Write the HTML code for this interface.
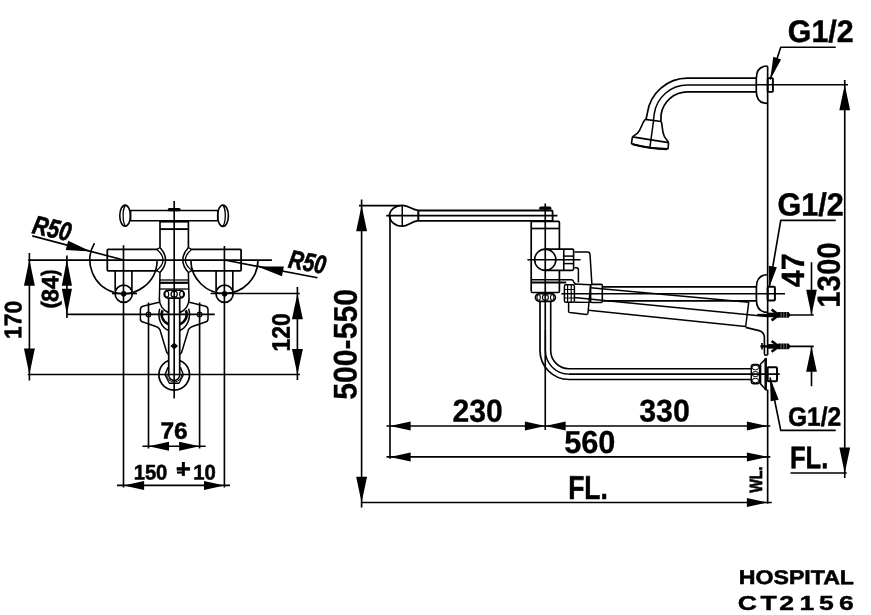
<!DOCTYPE html>
<html lang="en">
<head>
<meta charset="utf-8">
<title>HOSPITAL CT2156</title>
<style>
html,body{margin:0;padding:0;background:#fff;}
body{width:871px;height:615px;overflow:hidden;}
svg{display:block;will-change:transform;}
svg text{font-family:"Liberation Sans",sans-serif;font-weight:bold;fill:#000;}
</style>
</head>
<body>
<svg width="871" height="615" viewBox="0 0 871 615" fill="none" stroke="#000" stroke-linecap="butt" stroke-linejoin="round">
<g id="front">
<line x1="28.20" y1="260.05" x2="271.90" y2="260.05" stroke-width="1.65" />
<line x1="67.00" y1="314.40" x2="214.75" y2="314.40" stroke-width="1.65" />
<line x1="27.80" y1="374.50" x2="299.90" y2="374.50" stroke-width="1.65" />
<line x1="210.60" y1="293.50" x2="299.75" y2="293.50" stroke-width="1.65" />
<line x1="112.00" y1="293.50" x2="137.00" y2="293.50" stroke-width="1.65" />
<line x1="29.40" y1="253.00" x2="29.40" y2="380.50" stroke-width="1.65" />
<line x1="66.90" y1="255.60" x2="66.90" y2="318.00" stroke-width="1.65" />
<line x1="297.40" y1="287.00" x2="297.40" y2="380.00" stroke-width="1.65" />
<line x1="123.50" y1="245.25" x2="123.50" y2="487.50" stroke-width="1.65" />
<line x1="224.40" y1="246.00" x2="224.40" y2="487.50" stroke-width="1.65" />
<line x1="148.50" y1="302.50" x2="148.50" y2="448.50" stroke-width="1.65" />
<line x1="199.60" y1="302.50" x2="199.60" y2="448.50" stroke-width="1.65" />
<line x1="174.20" y1="201.00" x2="174.20" y2="398.50" stroke-width="1.65" />
<line x1="142.50" y1="446.25" x2="205.60" y2="446.25" stroke-width="1.65" />
<line x1="117.00" y1="485.40" x2="230.00" y2="485.40" stroke-width="1.65" />
<polygon points="29.40,259.60 34.85,285.80 23.95,285.80" fill="#000" stroke="none"/>
<polygon points="29.40,374.50 23.95,348.50 34.85,348.50" fill="#000" stroke="none"/>
<polygon points="66.90,259.60 71.95,285.80 61.85,285.80" fill="#000" stroke="none"/>
<polygon points="66.90,314.40 61.85,288.80 71.95,288.80" fill="#000" stroke="none"/>
<polygon points="297.40,293.50 302.85,319.30 291.95,319.30" fill="#000" stroke="none"/>
<polygon points="297.40,374.50 291.95,348.90 302.85,348.90" fill="#000" stroke="none"/>
<polygon points="148.50,446.25 169.00,441.75 169.00,450.75" fill="#000" stroke="none"/>
<polygon points="199.60,446.25 179.10,450.75 179.10,441.75" fill="#000" stroke="none"/>
<polygon points="123.50,485.40 144.10,480.90 144.10,489.90" fill="#000" stroke="none"/>
<polygon points="224.40,485.40 204.00,489.90 204.00,480.90" fill="#000" stroke="none"/>
<line x1="32.25" y1="235.90" x2="123.50" y2="260.05" stroke-width="1.65" />
<polygon points="90.98,251.60 65.77,250.01 68.18,240.72" fill="#000" stroke="none"/>
<line x1="224.40" y1="260.05" x2="317.50" y2="277.75" stroke-width="1.65" />
<polygon points="257.38,266.48 283.86,266.55 281.94,276.36" fill="#000" stroke="none"/>
<path d="M157.09 260.64 A33.6 33.6 0 1 1 94.47 243.14" stroke-width="1.65" />
<path d="M258.00 260.05 A33.6 33.6 0 0 1 190.81 260.64" stroke-width="1.65" />
<rect x="130.60" y="210.50" width="87.20" height="10.25" rx="0" stroke-width="1.6" />
<ellipse cx="125.10" cy="215.70" rx="5.30" ry="10.60" stroke-width="1.6" />
<path d="M126.2 205.2 A3.1 10.5 0 0 0 126.2 226.2" stroke-width="1.3" />
<ellipse cx="223.00" cy="215.70" rx="5.40" ry="10.70" stroke-width="1.6" />
<path d="M222.2 205.2 A3.1 10.5 0 0 1 222.2 226.2" stroke-width="1.3" />
<line x1="169.30" y1="209.70" x2="179.10" y2="209.70" stroke-width="3.2" stroke-linecap="round"/>
<line x1="160.00" y1="221.40" x2="188.40" y2="221.40" stroke-width="2.4" />
<line x1="160.00" y1="229.10" x2="188.40" y2="229.10" stroke-width="1.9" />
<line x1="160.00" y1="221.00" x2="160.00" y2="247.50" stroke-width="1.65" />
<line x1="188.40" y1="221.00" x2="188.40" y2="247.50" stroke-width="1.65" />
<path d="M156.9 249.4 L108.2 249.4 Q107.3 249.4 107.3 250.3 L107.3 269.9 Q107.3 270.8 108.2 270.8 L156.6 270.8" stroke-width="1.8" />
<path d="M191.5 249.4 L240.2 249.4 Q241.1 249.4 241.1 250.3 L241.1 269.9 Q241.1 270.8 240.2 270.8 L191.8 270.8" stroke-width="1.8" />
<path d="M160 247.5 Q171.2 260 160 272.5 L159.4 299" stroke-width="1.5" />
<path d="M160 247.5 L156.9 249.4 Q169.3 260 156.6 270.6 L160 272.5" stroke-width="1.3" />
<path d="M188.4 247.5 Q177.2 260 188.4 272.5 L189 299" stroke-width="1.5" />
<path d="M188.4 247.5 L191.5 249.4 Q179.1 260 191.8 270.6 L188.4 272.5" stroke-width="1.3" />
<line x1="115.20" y1="270.50" x2="115.20" y2="291.00" stroke-width="1.65" />
<line x1="131.90" y1="270.50" x2="131.90" y2="291.00" stroke-width="1.65" />
<circle cx="123.70" cy="293.70" r="8.60" stroke-width="1.7" />
<circle cx="123.7" cy="293.7" r="2.8" fill="#000" stroke="none"/>
<line x1="216.10" y1="270.50" x2="216.10" y2="291.00" stroke-width="1.65" />
<line x1="232.80" y1="270.50" x2="232.80" y2="291.00" stroke-width="1.65" />
<circle cx="224.60" cy="293.70" r="8.60" stroke-width="1.7" />
<circle cx="224.6" cy="293.7" r="2.8" fill="#000" stroke="none"/>
<line x1="160.00" y1="280.00" x2="188.40" y2="280.00" stroke-width="1.3" />
<line x1="160.00" y1="282.80" x2="188.40" y2="282.80" stroke-width="2.2" />
<line x1="160.00" y1="289.00" x2="188.40" y2="289.00" stroke-width="1.3" />
<rect x="164.10" y="290.30" width="20.20" height="7.80" rx="3.9" stroke-width="1.6" />
<ellipse cx="166.80" cy="294.20" rx="1.90" ry="3.00" stroke-width="1.2" />
<ellipse cx="174.20" cy="294.20" rx="3.10" ry="3.00" stroke-width="1.2" />
<ellipse cx="181.60" cy="294.20" rx="1.90" ry="3.00" stroke-width="1.2" />
<path d="M189.10 298.80 A14.9 14.9 0 0 1 179.78 312.62" stroke-width="1.7" />
<path d="M168.62 312.62 A14.9 14.9 0 0 1 159.30 298.80" stroke-width="1.7" />
<line x1="168.70" y1="298.10" x2="168.70" y2="375.00" stroke-width="1.7" />
<line x1="179.70" y1="298.10" x2="179.70" y2="375.00" stroke-width="1.7" />
<path d="M168.7 375 A5.5 5.5 0 0 0 179.7 375" stroke-width="1.5" />
<path d="M159.20 302.30 L143.70 306.00 Q140.40 306.60 140.40 309.50 L140.40 319.00 Q140.40 321.90 143.70 322.30 L155.20 326.20 Q159.90 327.70 160.40 331.20 L166.80 352.50 L168.70 354.60" stroke-width="1.5" />
<path d="M189.20 302.30 L204.70 306.00 Q208.00 306.60 208.00 309.50 L208.00 319.00 Q208.00 321.90 204.70 322.30 L193.20 326.20 Q188.50 327.70 188.00 331.20 L181.60 352.50 L179.70 354.60" stroke-width="1.5" />
<circle cx="148.50" cy="314.40" r="2.30" stroke-width="1.2" />
<circle cx="199.60" cy="314.40" r="2.30" stroke-width="1.2" />
<path d="M159.76 308.8 A15.3 17.2 0 0 0 168.70 330.55" stroke-width="1.5" />
<path d="M188.64 308.8 A15.3 17.2 0 0 1 179.70 330.55" stroke-width="1.5" />
<path d="M162.60 310.2 A12.6 11.0 0 0 0 168.70 324.40" stroke-width="2.5" />
<path d="M185.80 310.2 A12.6 11.0 0 0 1 179.70 324.40" stroke-width="2.5" />
<polygon points="174.2,342.4 178.0,346 174.2,349.6 170.39999999999998,346" fill="#000" stroke="none"/>
<path d="M179.7 360.47 A15.3 15.3 0 1 1 168.7 360.47" stroke-width="1.7" />
<path d="M168.00 367.30 L165.00 374.75 L169.40 383.20 L179.00 383.20 L183.40 374.75 L180.40 367.30" stroke-width="1.4" />
<path d="M166.79999999999998 374.7 A7.4 7.4 0 0 0 181.6 374.7" stroke-width="1.0" />
</g>
<g id="side">
<line x1="361.60" y1="199.40" x2="361.60" y2="507.50" stroke-width="1.65" />
<polygon points="361.60,205.60 367.05,231.30 356.15,231.30" fill="#000" stroke="none"/>
<polygon points="361.60,502.50 356.15,476.80 367.05,476.80" fill="#000" stroke="none"/>
<line x1="359.00" y1="205.60" x2="399.40" y2="205.60" stroke-width="1.65" />
<line x1="361.50" y1="502.50" x2="771.75" y2="502.50" stroke-width="1.65" />
<line x1="390.00" y1="215.60" x2="390.00" y2="458.75" stroke-width="1.65" />
<line x1="386.25" y1="215.60" x2="557.50" y2="215.60" stroke-width="1.65" />
<line x1="386.50" y1="425.95" x2="770.30" y2="425.95" stroke-width="1.65" />
<line x1="386.50" y1="456.90" x2="770.30" y2="456.90" stroke-width="1.65" />
<polygon points="390.00,425.95 410.60,421.45 410.60,430.45" fill="#000" stroke="none"/>
<polygon points="545.25,425.95 524.85,430.45 524.85,421.45" fill="#000" stroke="none"/>
<polygon points="545.25,425.95 565.65,421.45 565.65,430.45" fill="#000" stroke="none"/>
<polygon points="767.65,425.95 746.85,430.45 746.85,421.45" fill="#000" stroke="none"/>
<polygon points="390.00,456.90 410.60,452.40 410.60,461.40" fill="#000" stroke="none"/>
<polygon points="767.65,456.90 746.85,461.40 746.85,452.40" fill="#000" stroke="none"/>
<polygon points="767.65,502.50 746.85,507.00 746.85,498.00" fill="#000" stroke="none"/>
<line x1="545.25" y1="203.50" x2="545.25" y2="430.00" stroke-width="1.65" />
<line x1="767.65" y1="66.20" x2="767.65" y2="355.00" stroke-width="1.65" />
<line x1="767.65" y1="389.50" x2="767.65" y2="503.75" stroke-width="1.65" />
<line x1="844.75" y1="80.00" x2="844.75" y2="478.00" stroke-width="1.65" />
<polygon points="844.75,84.75 850.15,110.35 839.35,110.35" fill="#000" stroke="none"/>
<polygon points="844.75,473.00 839.35,447.40 850.15,447.40" fill="#000" stroke="none"/>
<line x1="756.00" y1="84.75" x2="848.00" y2="84.75" stroke-width="1.65" />
<line x1="811.50" y1="262.25" x2="811.50" y2="314.75" stroke-width="1.65" />
<polygon points="811.50,314.95 806.15,289.65 816.85,289.65" fill="#000" stroke="none"/>
<line x1="811.50" y1="346.25" x2="811.50" y2="386.25" stroke-width="1.65" />
<polygon points="811.50,346.40 816.85,371.80 806.15,371.80" fill="#000" stroke="none"/>
<line x1="757.50" y1="314.95" x2="813.75" y2="314.95" stroke-width="1.65" />
<line x1="760.60" y1="346.40" x2="813.75" y2="346.40" stroke-width="1.65" />
<line x1="561.25" y1="293.75" x2="785.00" y2="293.75" stroke-width="1.65" />
<line x1="569.00" y1="374.10" x2="779.75" y2="374.10" stroke-width="1.65" />
<line x1="790.50" y1="473.00" x2="846.75" y2="473.00" stroke-width="1.65" />
<path d="M835.75 47.25 L780.75 47.25 L770.2 79.5" stroke-width="1.65" />
<polygon points="770.20,79.50 773.30,56.84 781.09,59.39" fill="#000" stroke="none"/>
<path d="M835.75 220.4 L780.75 220.4 L769.3 287" stroke-width="1.65" />
<polygon points="769.30,287.00 768.78,265.81 776.86,267.20" fill="#000" stroke="none"/>
<path d="M835.75 430.4 L780.75 430.4 L770 377.5" stroke-width="1.65" />
<polygon points="770.00,377.50 778.70,399.71 770.66,401.35" fill="#000" stroke="none"/>
<path d="M402.25 205.3 A12.7 10.45 0 0 0 402.25 226.2 C408 226.2 411 221.6 418 220.7 M402.25 205.3 C408 205.3 411 209.4 418 210.3" stroke-width="1.8" />
<line x1="402.25" y1="205.30" x2="402.25" y2="226.20" stroke-width="1.5" />
<line x1="418.30" y1="210.30" x2="418.30" y2="220.60" stroke-width="2.0" />
<path d="M418 210.5 L551.4 210.5 Q552.6 210.5 552.6 211.7 L552.6 220.9" stroke-width="1.8" />
<line x1="418.00" y1="220.80" x2="552.60" y2="220.80" stroke-width="1.8" />
<line x1="540.80" y1="208.20" x2="549.80" y2="208.20" stroke-width="3.2" stroke-linecap="round"/>
<path d="M531.2 291 L531.2 221.4 L558.2 221.4 Q559.4 221.4 559.4 222.6 L559.4 249" stroke-width="1.7" />
<line x1="531.20" y1="228.50" x2="559.40" y2="228.50" stroke-width="1.7" />
<path d="M559.4 270.4 L559.4 291.3 Q559.4 292.5 558.2 292.5 L532.4 292.5 Q531.2 292.5 531.2 291.3" stroke-width="1.7" />
<circle cx="545.25" cy="259.75" r="10.60" stroke-width="1.6" />
<line x1="527.40" y1="259.75" x2="580.60" y2="259.75" stroke-width="1.65" />
<path d="M545.25 249.1 L572.3 249.1 Q573.6 249.1 573.6 250.4 L573.6 269.1 Q573.6 270.4 572.3 270.4 L545.25 270.4" stroke-width="1.6" />
<line x1="563.75" y1="249.10" x2="563.75" y2="270.40" stroke-width="1.6" />
<line x1="563.75" y1="256.10" x2="573.60" y2="256.10" stroke-width="1.5" />
<line x1="563.75" y1="263.60" x2="573.60" y2="263.60" stroke-width="1.5" />
<path d="M574.4 251.9 L587.5 251.9 Q589.8 251.9 590 254.4 L591.9 284.4" stroke-width="1.5" />
<path d="M574.4 267.75 L576.8 267.75 Q578.4 267.75 578.4 270 L578.4 282.5" stroke-width="1.5" />
<path d="M531.2 279.75 L571.5 279.75 Q573.3 279.75 573.75 282 Q574.3 283.75 576.25 283.75" stroke-width="1.4" />
<line x1="531.20" y1="282.60" x2="566.25" y2="282.60" stroke-width="2.0" />
<rect x="535.40" y="293.60" width="20.00" height="7.80" rx="3.9" stroke-width="1.6" />
<ellipse cx="538.60" cy="297.50" rx="1.70" ry="2.80" stroke-width="1.1" />
<ellipse cx="545.40" cy="297.50" rx="3.00" ry="2.90" stroke-width="1.1" />
<ellipse cx="552.20" cy="297.50" rx="1.70" ry="2.80" stroke-width="1.1" />
<path d="M540 301.4 L540 350.5 A29 29 0 0 0 569 379.5 L751.25 379.5" stroke-width="1.7" />
<path d="M550.7 301.4 L550.7 350.5 A18.3 18.3 0 0 0 569 368.8 L751.25 368.8" stroke-width="1.6" />
<path d="M545.4 330 L545.4 350.5 A23.6 23.6 0 0 0 569 374.1" stroke-width="1.4" />
<rect x="564.40" y="284.75" width="10.00" height="17.50" rx="1.5" stroke-width="1.5" />
<line x1="567.60" y1="284.75" x2="567.60" y2="302.25" stroke-width="1.2" />
<line x1="571.20" y1="284.75" x2="571.20" y2="302.25" stroke-width="1.2" />
<line x1="564.40" y1="289.50" x2="574.40" y2="289.50" stroke-width="1.0" />
<line x1="564.40" y1="298.00" x2="574.40" y2="298.00" stroke-width="1.0" />
<path d="M574.4 283.9 L590.6 284.8" stroke-width="1.5" />
<rect x="590.60" y="284.40" width="11.70" height="18.10" rx="1.2" stroke-width="1.6" />
<path d="M574.4 302.2 L590.6 302.4" stroke-width="1.4" />
<line x1="602.30" y1="286.90" x2="756.40" y2="286.90" stroke-width="1.6" />
<line x1="602.30" y1="300.90" x2="756.40" y2="300.90" stroke-width="1.6" />
<path d="M568.6 302.2 L568.6 311.2 Q568.6 312.4 570 312.6 L586.4 314.4 Q587.8 314.5 588 313 L590.6 284.8" stroke-width="1.5" />
<line x1="590.60" y1="287.80" x2="748.50" y2="302.30" stroke-width="1.5" />
<line x1="574.00" y1="297.50" x2="767.00" y2="316.60" stroke-width="1.5" />
<line x1="588.50" y1="310.20" x2="745.60" y2="326.60" stroke-width="1.5" />
<line x1="748.75" y1="301.90" x2="745.60" y2="327.00" stroke-width="1.5" />
<path d="M745.6 327.4 L759 330.6 Q764.4 332 764.4 337.5 L764.4 353.5 Q764.4 355.2 766 355.2 L767.5 355.2" stroke-width="1.6" />
<path d="M767.65 274.75 C760.4 274.75 756.4 279.25 756.4 287.25 L756.4 299.75 C756.4 307.75 760.4 312.25 767.65 312.25" stroke-width="1.7" />
<rect x="767.65" y="286.70" width="7.25" height="13.70" rx="1" stroke-width="2.0" />
<line x1="757.50" y1="314.95" x2="768.50" y2="314.95" stroke-width="2.2" />
<rect x="768" y="312.65" width="11" height="4.6" fill="#000" stroke="none"/>
<path d="M771.6 309.55 L778.8 314.95 L771.6 320.34999999999997" stroke-width="2.6" stroke-linejoin="miter"/>
<polygon points="778,312.05 788.6,312.05 790.8,314.95 788.6,317.84999999999997 778,317.84999999999997" fill="#000" stroke="none"/>
<line x1="780.60" y1="314.95" x2="788.80" y2="314.95" stroke-width="6.4" stroke="#fff" stroke-opacity="0.45" stroke-dasharray="0.9 1.9"/>
<line x1="760.60" y1="346.40" x2="768.50" y2="346.40" stroke-width="2.2" />
<rect x="768" y="344.09999999999997" width="11" height="4.6" fill="#000" stroke="none"/>
<path d="M771.6 341.0 L778.8 346.4 L771.6 351.79999999999995" stroke-width="2.6" stroke-linejoin="miter"/>
<polygon points="778,343.5 788.6,343.5 790.8,346.4 788.6,349.29999999999995 778,349.29999999999995" fill="#000" stroke="none"/>
<line x1="780.60" y1="346.40" x2="788.80" y2="346.40" stroke-width="6.4" stroke="#fff" stroke-opacity="0.45" stroke-dasharray="0.9 1.9"/>
<line x1="762.00" y1="343.00" x2="762.00" y2="349.50" stroke-width="1.6" />
<path d="M766.2 358.4 L760.6 364 L760.6 384 L766.2 390 Z" stroke-width="1.5" />
<line x1="765.20" y1="358.40" x2="765.20" y2="390.00" stroke-width="1.5" />
<rect x="751.30" y="364.40" width="8.30" height="19.40" rx="2.5" stroke-width="1.5" />
<ellipse cx="755.40" cy="367.60" rx="3.20" ry="2.30" stroke-width="1.0" />
<ellipse cx="755.40" cy="374.10" rx="3.20" ry="2.60" stroke-width="1.0" />
<ellipse cx="755.40" cy="380.60" rx="3.20" ry="2.30" stroke-width="1.0" />
<rect x="767.65" y="367.20" width="9.35" height="14.00" rx="1" stroke-width="2.0" />
<path d="M756.3 78.10 L687.5 78.10 A40.5 40.5 0 0 0 647.39 112.96 L646.0 119.5" stroke-width="1.7" />
<path d="M756.3 85.00 L687.5 85.00 A33.6 33.6 0 0 0 654.23 113.92 L653.4 120.3" stroke-width="1.5" />
<path d="M756.3 91.90 L687.5 91.90 A26.7 26.7 0 0 0 661.06 114.88 L660.9 121.2" stroke-width="1.7" />
<path d="M767.65 66.0 C760.3 66.0 756.3 70.5 756.3 78.5 L756.3 90.9 C756.3 98.9 760.3 103.4 767.65 103.4" stroke-width="1.7" />
<rect x="767.65" y="78.10" width="5.25" height="13.80" rx="0.8" stroke-width="1.9" />
<path d="M645 119.4 L661.3 121.5" stroke-width="1.6" />
<path d="M645 119.4 C641.5 124 641 130 637.5 133.2 C635.5 135 633.5 135.8 632.4 136.9" stroke-width="1.6" />
<path d="M661.3 121.5 C662.5 126 662 131.5 664.3 136.4 C665.8 139.2 667.8 140.6 668.6 142.6" stroke-width="1.6" />
<path d="M632.4 136.9 L668.6 142.6" stroke-width="1.6" />
<path d="M632.4 136.9 L631.5 143.7 Q641 146.6 650 147.8 Q660 149 668.0 148.8 L668.6 142.6" stroke-width="1.6" />
<path d="M632.5 144.3 Q650 148.8 667 149.1" stroke-width="2.2" />
<line x1="653.60" y1="120.40" x2="649.80" y2="148.00" stroke-width="1.5" />
</g>
<g id="labels" stroke="none" stroke-linejoin="miter">
<text transform="translate(31.3 232.9) rotate(12.8) scale(0.8 1)" font-size="26.3" font-style="italic" stroke="#000" stroke-width="0.6" vector-effect="non-scaling-stroke">R50</text>
<text transform="translate(287.6 267.4) rotate(10.5) scale(0.78 1)" font-size="26" font-style="italic" stroke="#000" stroke-width="0.6" vector-effect="non-scaling-stroke">R50</text>
<text transform="translate(21.35 338.98) rotate(-89.9) scale(0.2290 0.2413)" font-size="100" stroke="#000" stroke-width="0.5" vector-effect="non-scaling-stroke">170</text>
<text transform="translate(57.05 308.64) rotate(-89.9) scale(0.2358 0.2252)" font-size="100" stroke="#000" stroke-width="0.4" vector-effect="non-scaling-stroke">(</text>
<text transform="translate(58.33 301.99) rotate(-89.9) scale(0.2337 0.2370)" font-size="100" stroke="#000" stroke-width="0.5" vector-effect="non-scaling-stroke">84</text>
<text transform="translate(56.70 275.89) rotate(-89.9) scale(0.1979 0.2207)" font-size="100" stroke="#000" stroke-width="0.4" vector-effect="non-scaling-stroke">)</text>
<text transform="translate(289.81 351.40) rotate(-89.9) scale(0.2292 0.2533)" font-size="100" stroke="#000" stroke-width="0.5" vector-effect="non-scaling-stroke">120</text>
<text transform="translate(160.38 438.61) rotate(0.1) scale(0.2439 0.2312)" font-size="100" stroke="#000" stroke-width="0.5" vector-effect="non-scaling-stroke">76</text>
<text transform="translate(133.65 479.39) rotate(0.1) scale(0.2019 0.2118)" font-size="100" stroke="#000" stroke-width="0.5" vector-effect="non-scaling-stroke">150</text>
<clipPath id="pmc"><rect x="170" y="455" width="30" height="21.4"/></clipPath>
<g clip-path="url(#pmc)"><text transform="translate(176.25 481.3) rotate(0.1) scale(0.26 0.31)" font-size="100" stroke="#000" stroke-width="0.3" vector-effect="non-scaling-stroke">±</text></g>
<line x1="177" y1="472.5" x2="183.4" y2="472.5" stroke="#000" stroke-width="2.2"/>
<text transform="translate(193.33 479.41) rotate(0.1) scale(0.2030 0.2124)" font-size="100" stroke="#000" stroke-width="0.5" vector-effect="non-scaling-stroke">10</text>
<text transform="translate(356.51 399.65) rotate(-89.9) scale(0.3014 0.3277)" font-size="100" stroke="#000" stroke-width="0.3" vector-effect="non-scaling-stroke">500-550</text>
<text transform="translate(452.49 421.81) rotate(0.1) scale(0.3008 0.3205)" font-size="100" stroke="#000" stroke-width="0.3" vector-effect="non-scaling-stroke">230</text>
<text transform="translate(639.20 421.50) rotate(0.1) scale(0.3034 0.3149)" font-size="100" stroke="#000" stroke-width="0.3" vector-effect="non-scaling-stroke">330</text>
<text transform="translate(564.13 452.94) rotate(0.1) scale(0.3074 0.3176)" font-size="100" stroke="#000" stroke-width="0.3" vector-effect="non-scaling-stroke">560</text>
<text transform="translate(568.24 498.97) rotate(0.1) scale(0.2641 0.3326)" font-size="100" stroke="#000" stroke-width="0.5" vector-effect="non-scaling-stroke">FL.</text>
<text transform="translate(761.90 492.82) rotate(-89.9) scale(0.1441 0.1764)" font-size="100" stroke="#000" stroke-width="0.7" vector-effect="non-scaling-stroke">WL.</text>
<text transform="translate(787.81 41.98) rotate(0.1) scale(0.3033 0.3125)" font-size="100" stroke="#000" stroke-width="0.45" vector-effect="non-scaling-stroke">G1/2</text>
<text transform="translate(777.49 215.43) rotate(0.1) scale(0.3050 0.3209)" font-size="100" stroke="#000" stroke-width="0.45" vector-effect="non-scaling-stroke">G1/2</text>
<text transform="translate(803.96 287.30) rotate(-89.9) scale(0.3045 0.3227)" font-size="100" stroke="#000" stroke-width="0.3" vector-effect="non-scaling-stroke">47</text>
<text transform="translate(839.63 307.86) rotate(-89.9) scale(0.2946 0.3212)" font-size="100" stroke="#000" stroke-width="0.3" vector-effect="non-scaling-stroke">1300</text>
<text transform="translate(787.93 425.65) rotate(0.1) scale(0.2461 0.2670)" font-size="100" stroke="#000" stroke-width="0.45" vector-effect="non-scaling-stroke">G1/2</text>
<text transform="translate(789.93 468.25) rotate(0.1) scale(0.2559 0.3113)" font-size="100" stroke="#000" stroke-width="0.5" vector-effect="non-scaling-stroke">FL.</text>
<text transform="translate(738.85 584.00) rotate(0.1) scale(0.2313 0.1981)" font-size="100" stroke="#000" stroke-width="0.6" vector-effect="non-scaling-stroke">HOSPITAL</text>
<text transform="translate(0 609.7) scale(1.28 1)" font-size="20.8" x="576.4 594.1 608.7 624.7 639.9 655.5" stroke="#000" stroke-width="0.5" vector-effect="non-scaling-stroke">CT2156</text>
</g>
</svg>
</body>
</html>
